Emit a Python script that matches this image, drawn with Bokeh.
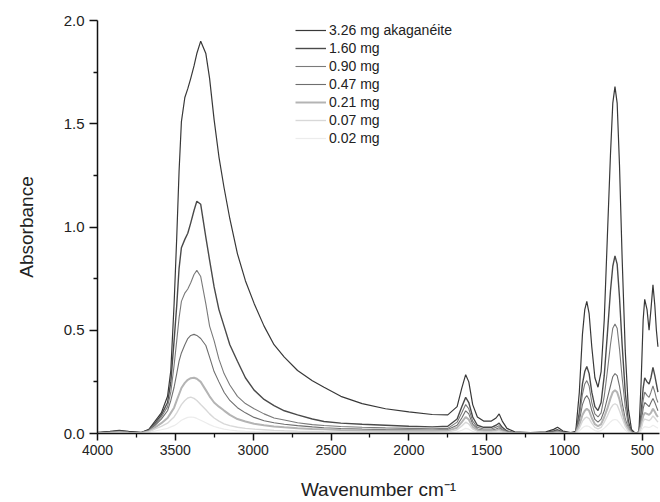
from bokeh.plotting import figure
from bokeh.models import Range1d, FixedTicker, NumeralTickFormatter, Legend, LegendItem
from bokeh.embed import file_html
from bokeh.resources import INLINE

# Wavenumber grid (cm^-1)
wavenumber = [4000, 3920, 3860, 3800, 3720, 3670, 3630, 3590, 3550, 3529,
              3508, 3491, 3476, 3461, 3439, 3420, 3401, 3380, 3362, 3337,
              3304, 3280, 3251, 3220, 3187, 3150, 3101, 3050, 2994, 2930,
              2866, 2800, 2715, 2620, 2545, 2437, 2300, 2150, 2000, 1850,
              1750, 1690, 1660, 1635, 1615, 1590, 1560, 1520, 1470, 1440,
              1420, 1400, 1370, 1320, 1220, 1120, 1070, 1045, 1010, 960,
              928, 905, 885, 870, 857, 842, 825, 805, 785, 765,
              745, 725, 705, 690, 676, 662, 647, 630, 610, 590,
              570, 545, 522, 508, 495, 485, 470, 457, 445, 432,
              420, 410, 400]

abs_326 = [0.005, 0.01, 0.015, 0.01, 0.005, 0.02, 0.06, 0.10, 0.18, 0.305,
           0.627, 0.95, 1.27, 1.51, 1.627, 1.67, 1.72, 1.78, 1.84, 1.90,
           1.84, 1.72, 1.52, 1.34, 1.19, 1.04, 0.87, 0.74, 0.63, 0.52,
           0.43, 0.37, 0.305, 0.255, 0.224, 0.18, 0.145, 0.12, 0.105, 0.092,
           0.09, 0.13, 0.22, 0.285, 0.25, 0.14, 0.08, 0.06, 0.06, 0.075,
           0.095, 0.06, 0.025, 0.008, 0.004, 0.008, 0.02, 0.03, 0.012, 0.004,
           0.01, 0.2, 0.48, 0.6, 0.64, 0.58, 0.42, 0.27, 0.224, 0.3,
           0.55, 0.95, 1.35, 1.6, 1.68, 1.6, 1.3, 0.85, 0.4, 0.12,
           0.02, 0.0, 0.01, 0.25, 0.55, 0.65, 0.6, 0.5, 0.6, 0.72,
           0.62, 0.5, 0.42]

abs_160 = [0.003, 0.008, 0.012, 0.008, 0.004, 0.018, 0.05, 0.09, 0.15, 0.25,
           0.45, 0.62, 0.80, 0.90, 0.94, 0.97, 1.02, 1.08, 1.125, 1.11,
           0.95, 0.84, 0.71, 0.60, 0.52, 0.43, 0.35, 0.27, 0.21, 0.165,
           0.135, 0.11, 0.09, 0.07, 0.058, 0.05, 0.045, 0.04, 0.035, 0.032,
           0.035, 0.07, 0.13, 0.175, 0.15, 0.08, 0.04, 0.03, 0.03, 0.04,
           0.05, 0.03, 0.012, 0.004, 0.002, 0.005, 0.012, 0.018, 0.008, 0.002,
           0.006, 0.1, 0.24, 0.30, 0.324, 0.29, 0.2, 0.13, 0.111, 0.15,
           0.28, 0.48, 0.69, 0.81, 0.86, 0.82, 0.66, 0.43, 0.2, 0.06,
           0.01, 0.0, 0.005, 0.1, 0.22, 0.27, 0.25, 0.24, 0.27, 0.32,
           0.28, 0.24, 0.2]

abs_090 = [0.002, 0.006, 0.01, 0.006, 0.003, 0.015, 0.045, 0.08, 0.13, 0.2,
           0.33, 0.45, 0.56, 0.64, 0.68, 0.70, 0.73, 0.77, 0.79, 0.76,
           0.628, 0.52, 0.45, 0.36, 0.29, 0.235, 0.18, 0.145, 0.12, 0.095,
           0.075, 0.065, 0.052, 0.043, 0.039, 0.034, 0.03, 0.027, 0.025, 0.023,
           0.025, 0.055, 0.1, 0.14, 0.12, 0.06, 0.03, 0.022, 0.022, 0.03,
           0.038, 0.022, 0.01, 0.003, 0.002, 0.004, 0.009, 0.013, 0.006, 0.002,
           0.005, 0.08, 0.19, 0.24, 0.256, 0.23, 0.15, 0.095, 0.08, 0.1,
           0.18, 0.3, 0.43, 0.51, 0.53, 0.51, 0.41, 0.27, 0.13, 0.04,
           0.008, 0.0, 0.004, 0.07, 0.16, 0.2, 0.185, 0.175, 0.2, 0.23,
           0.2, 0.17, 0.15]

abs_047 = [0.002, 0.005, 0.008, 0.005, 0.002, 0.012, 0.04, 0.07, 0.11, 0.16,
           0.224, 0.29, 0.35, 0.39, 0.43, 0.46, 0.475, 0.48, 0.475, 0.46,
           0.426, 0.37, 0.3, 0.25, 0.2, 0.16, 0.125, 0.1, 0.078, 0.062,
           0.052, 0.045, 0.038, 0.032, 0.028, 0.024, 0.021, 0.019, 0.018, 0.017,
           0.019, 0.04, 0.075, 0.11, 0.095, 0.045, 0.022, 0.016, 0.016, 0.022,
           0.028, 0.016, 0.007, 0.002, 0.001, 0.003, 0.006, 0.009, 0.004, 0.001,
           0.004, 0.06, 0.14, 0.17, 0.184, 0.165, 0.11, 0.068, 0.055, 0.07,
           0.11, 0.17, 0.23, 0.275, 0.29, 0.28, 0.23, 0.15, 0.07, 0.025,
           0.005, 0.0, 0.003, 0.05, 0.12, 0.15, 0.14, 0.13, 0.15, 0.17,
           0.15, 0.13, 0.11]

abs_021 = [0.001, 0.004, 0.006, 0.004, 0.002, 0.01, 0.03, 0.05, 0.075, 0.1,
           0.125, 0.16, 0.19, 0.22, 0.245, 0.26, 0.268, 0.27, 0.265, 0.25,
           0.21, 0.18, 0.15, 0.13, 0.111, 0.09, 0.07, 0.058, 0.047, 0.04,
           0.034, 0.03, 0.026, 0.022, 0.02, 0.017, 0.015, 0.013, 0.012, 0.012,
           0.013, 0.028, 0.055, 0.08, 0.068, 0.032, 0.016, 0.011, 0.011, 0.015,
           0.019, 0.011, 0.005, 0.002, 0.001, 0.002, 0.004, 0.006, 0.003, 0.001,
           0.003, 0.04, 0.09, 0.11, 0.12, 0.11, 0.075, 0.045, 0.035, 0.045,
           0.08, 0.12, 0.17, 0.2, 0.21, 0.2, 0.165, 0.11, 0.05, 0.018,
           0.004, 0.0, 0.002, 0.035, 0.085, 0.1, 0.095, 0.09, 0.1, 0.12,
           0.105, 0.09, 0.08]

abs_007 = [0.001, 0.003, 0.005, 0.003, 0.001, 0.008, 0.022, 0.035, 0.05, 0.065,
           0.08, 0.1, 0.12, 0.14, 0.16, 0.172, 0.176, 0.17, 0.16, 0.14,
           0.115, 0.095, 0.075, 0.06, 0.047, 0.038, 0.03, 0.025, 0.021, 0.018,
           0.015, 0.013, 0.011, 0.01, 0.009, 0.008, 0.007, 0.006, 0.006, 0.006,
           0.007, 0.018, 0.036, 0.055, 0.046, 0.022, 0.01, 0.007, 0.007, 0.01,
           0.013, 0.007, 0.003, 0.001, 0.001, 0.001, 0.003, 0.004, 0.002, 0.001,
           0.002, 0.025, 0.06, 0.074, 0.079, 0.072, 0.05, 0.03, 0.022, 0.03,
           0.055, 0.085, 0.12, 0.138, 0.144, 0.138, 0.11, 0.075, 0.035, 0.012,
           0.003, 0.0, 0.001, 0.025, 0.06, 0.07, 0.066, 0.062, 0.07, 0.085,
           0.075, 0.065, 0.055]

abs_002 = [0.0, 0.002, 0.003, 0.002, 0.001, 0.005, 0.012, 0.018, 0.025, 0.032,
           0.038, 0.046, 0.055, 0.064, 0.072, 0.078, 0.08, 0.078, 0.073, 0.064,
           0.052, 0.043, 0.034, 0.027, 0.021, 0.017, 0.013, 0.011, 0.009, 0.008,
           0.007, 0.006, 0.005, 0.004, 0.004, 0.003, 0.003, 0.003, 0.003, 0.003,
           0.003, 0.008, 0.016, 0.025, 0.021, 0.01, 0.005, 0.003, 0.003, 0.005,
           0.006, 0.003, 0.001, 0.0, 0.0, 0.0, 0.001, 0.002, 0.001, 0.0,
           0.001, 0.012, 0.028, 0.035, 0.037, 0.034, 0.024, 0.014, 0.01, 0.014,
           0.026, 0.04, 0.056, 0.065, 0.068, 0.065, 0.052, 0.035, 0.016, 0.006,
           0.001, 0.0, 0.0, 0.012, 0.028, 0.033, 0.031, 0.029, 0.033, 0.04,
           0.035, 0.03, 0.026]

series_labels = ["3.26 mg akaganéite", "1.60 mg", "0.90 mg", "0.47 mg",
                 "0.21 mg", "0.07 mg", "0.02 mg"]
series_values = [abs_326, abs_160, abs_090, abs_047, abs_021, abs_007, abs_002]

x_major_ticks = [4000, 3500, 3000, 2500, 2000, 1500, 1000, 500]
x_minor_ticks = [3750, 3250, 2750, 2250, 1750, 1250, 750]
y_major_ticks = [0.0, 0.5, 1.0, 1.5, 2.0]
y_minor_ticks = [0.25, 0.75, 1.25, 1.75]

colors = ["#383838", "#4a4a4a", "#7a7a7a", "#6e6e6e", "#b4b4b4", "#d8d8d8", "#ececec"]
widths = [1.2, 1.4, 1.1, 1.1, 2.0, 1.4, 1.2]

FONT = "Liberation Sans"

p = figure(width=660, height=502, output_backend="svg", toolbar_location=None,
           x_range=Range1d(4000, 390), y_range=Range1d(0, 2.0),
           min_border_left=97, min_border_right=1, min_border_top=20, min_border_bottom=69)
p.outline_line_color = None
p.xgrid.visible = False
p.ygrid.visible = False
p.background_fill_color = "white"
p.border_fill_color = "white"

items = []
for lab, vals, c, w in zip(series_labels, series_values, colors, widths):
    r = p.line(wavenumber, vals, line_color=c, line_width=w)
    items.append(LegendItem(label=lab, renderers=[r]))

legend = Legend(items=items, location=(198, 286), orientation="vertical",
                border_line_color=None, background_fill_alpha=0,
                glyph_width=31, glyph_height=18, label_height=18, spacing=0,
                padding=0, margin=0, label_standoff=3,
                label_text_font=FONT, label_text_font_size="14px",
                label_text_color="#222222")
p.add_layout(legend, "center")

for ax in (p.xaxis[0], p.yaxis[0]):
    ax.axis_line_color = "#111111"
    ax.axis_line_width = 1.5
    ax.major_tick_line_color = "#111111"
    ax.major_tick_line_width = 1.5
    ax.minor_tick_line_color = "#111111"
    ax.minor_tick_line_width = 1.3
    ax.major_tick_in = 0
    ax.minor_tick_in = 0
    ax.major_label_text_font = FONT
    ax.major_label_text_color = "#222222"
    ax.axis_label_text_font = FONT
    ax.axis_label_text_font_style = "normal"
    ax.axis_label_text_color = "#222222"
    ax.axis_label_text_font_size = "19px"

p.xaxis.major_label_text_font_size = "14px"
p.yaxis.major_label_text_font_size = "15px"
p.xaxis.ticker = FixedTicker(ticks=x_major_ticks, minor_ticks=x_minor_ticks)
p.yaxis.ticker = FixedTicker(ticks=y_major_ticks, minor_ticks=y_minor_ticks)
p.yaxis.formatter = NumeralTickFormatter(format="0.0")
p.xaxis.major_tick_out = 7
p.xaxis.minor_tick_out = 4
p.yaxis.major_tick_out = 8
p.yaxis.minor_tick_out = 4
p.xaxis.axis_label = "Wavenumber cm⁻¹"
p.yaxis.axis_label = "Absorbance"
p.xaxis.major_label_standoff = 4
p.yaxis.major_label_standoff = 5
p.xaxis.axis_label_standoff = 21
p.yaxis.axis_label_standoff = 24

open("out.html", "w").write(file_html(p, INLINE))
